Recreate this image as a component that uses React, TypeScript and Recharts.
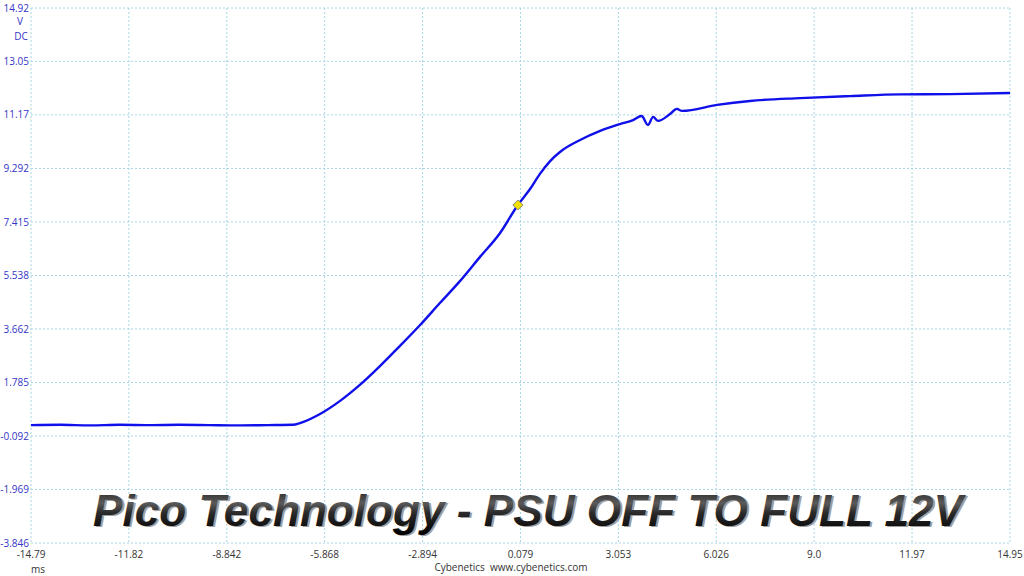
import { LineChart, Line, XAxis, YAxis, CartesianGrid, ReferenceDot } from 'recharts';

// time in ms, voltage in V DC
const timeMs = [
  -14.79, -13.9, -13.0, -12.1, -11.2, -10.3, -9.4, -8.5, -7.6, -6.83,
  -6.62, -6.01, -5.40, -4.80, -4.19, -3.58, -2.97, -2.37, -1.76, -1.15,
  -0.54, 0.0, 0.37, 0.67, 0.98, 1.28, 1.89, 2.50, 3.10, 3.50,
  3.76, 3.95, 4.11, 4.26, 4.62, 4.83, 4.99, 6.05, 7.05, 8.57,
  10.09, 11.61, 13.13, 14.95,
];
const voltsDc = [
  0.29, 0.30, 0.28, 0.30, 0.29, 0.30, 0.29, 0.28, 0.29, 0.30,
  0.36, 0.68, 1.14, 1.70, 2.36, 3.07, 3.80, 4.57, 5.34, 6.19,
  7.03, 8.01, 8.57, 9.10, 9.55, 9.87, 10.29, 10.61, 10.85, 10.99,
  11.13, 10.82, 11.10, 10.96, 11.20, 11.38, 11.31, 11.52, 11.66, 11.76,
  11.83, 11.89, 11.90, 11.94,
];

const xTicks = [-14.79, -11.816, -8.842, -5.868, -2.894, 0.079, 3.053, 6.026, 9.0, 11.974, 14.95];
const xTickLabels = ['-14.79', '-11.82', '-8.842', '-5.868', '-2.894', '0.079', '3.053', '6.026', '9.0', '11.97', '14.95'];
const yTicks = [-3.846, -1.969, -0.092, 1.785, 3.662, 5.538, 7.415, 9.292, 11.17, 13.05, 14.92];
const yTickLabels = ['-3.846', '-1.969', '-0.092', '1.785', '3.662', '5.538', '7.415', '9.292', '11.17', '13.05', '14.92'];

const triggerMs = 0.0;
const triggerV = 8.01;

const data = timeMs.map((t, i) => ({ t, v: voltsDc[i] }));

const font = '"Open Sans", "Noto Sans", sans-serif';
const blue = '#3535c8';

const Diamond = (props: any) => {
  const { cx, cy } = props;
  const r = 5;
  return (
    <polygon
      points={`${cx},${cy - r} ${cx + r},${cy} ${cx},${cy + r} ${cx - r},${cy}`}
      fill="#f2e000"
      stroke="#8a8a6a"
      strokeWidth={1}
    />
  );
};

export default function App() {
  return (
    <div style={{ position: 'absolute', left: 0, top: 0, width: 1024, height: 576, background: '#fff' }}>
      <LineChart width={1024} height={576} data={data} margin={{ top: 8, right: 14, bottom: 0, left: 0 }}>
        <CartesianGrid stroke="#a6d6e2" strokeDasharray="2 2" />
        <XAxis
          dataKey="t"
          type="number"
          domain={[-14.79, 14.95]}
          ticks={xTicks}
          tickFormatter={(v: number) => xTickLabels[xTicks.indexOf(v)]}
          axisLine={false}
          tickLine={false}
          tickSize={0}
          tickMargin={8}
          height={33}
          interval={0}
          tick={{ fill: '#333', fontSize: 10, fontFamily: font }}
          allowDataOverflow
        />
        <YAxis
          type="number"
          domain={[-3.846, 14.92]}
          ticks={yTicks}
          tickFormatter={(v: number) => yTickLabels[yTicks.indexOf(v)]}
          axisLine={false}
          tickLine={false}
          tickSize={0}
          tickMargin={2}
          width={31}
          interval={0}
          tick={{ fill: blue, fontSize: 10, fontFamily: font }}
          allowDataOverflow
        />
        <Line
          type="monotone"
          dataKey="v"
          stroke="#1010ea"
          strokeWidth={2.4}
          dot={false}
          isAnimationActive={false}
        />
        <ReferenceDot x={triggerMs} y={triggerV} shape={Diamond} />
      </LineChart>

      <svg
        width={1024}
        height={576}
        style={{ position: 'absolute', left: 0, top: 0, pointerEvents: 'none' }}
      >
        <defs>
          <linearGradient id="metal" x1="0" y1="0" x2="0" y2="1">
            <stop offset="0%" stopColor="#1a1a1a" />
            <stop offset="35%" stopColor="#5a5a5a" />
            <stop offset="55%" stopColor="#2a2a2a" />
            <stop offset="100%" stopColor="#000" />
          </linearGradient>
        </defs>
        <text x={20} y={25} textAnchor="middle" fill={blue} fontSize={10} fontFamily={font}>V</text>
        <text x={21} y={40} textAnchor="middle" fill={blue} fontSize={10} fontFamily={font}>DC</text>
        <text x={38} y={573} textAnchor="middle" fill="#333" fontSize={10} fontFamily={font}>ms</text>
        <text x={511} y={571} textAnchor="middle" fill="#333" fontSize={10} fontFamily={font} style={{ whiteSpace: 'pre' }}>
          {'Cybenetics\u00a0\u00a0www.cybenetics.com'}
        </text>
        <text
          x={95}
          y={527}
          textLength={870}
          lengthAdjust="spacingAndGlyphs"
          fill="#a0a0a0"
          fontSize={44}
          fontWeight="bold"
          fontStyle="italic"
          fontFamily='"Liberation Sans", Arial, sans-serif'
        >
          Pico Technology - PSU OFF TO FULL 12V
        </text>
        <text
          x={93}
          y={526}
          textLength={870}
          lengthAdjust="spacingAndGlyphs"
          fill="url(#metal)"
          fontSize={44}
          fontWeight="bold"
          fontStyle="italic"
          fontFamily='"Liberation Sans", Arial, sans-serif'
        >
          Pico Technology - PSU OFF TO FULL 12V
        </text>
      </svg>
    </div>
  );
}
